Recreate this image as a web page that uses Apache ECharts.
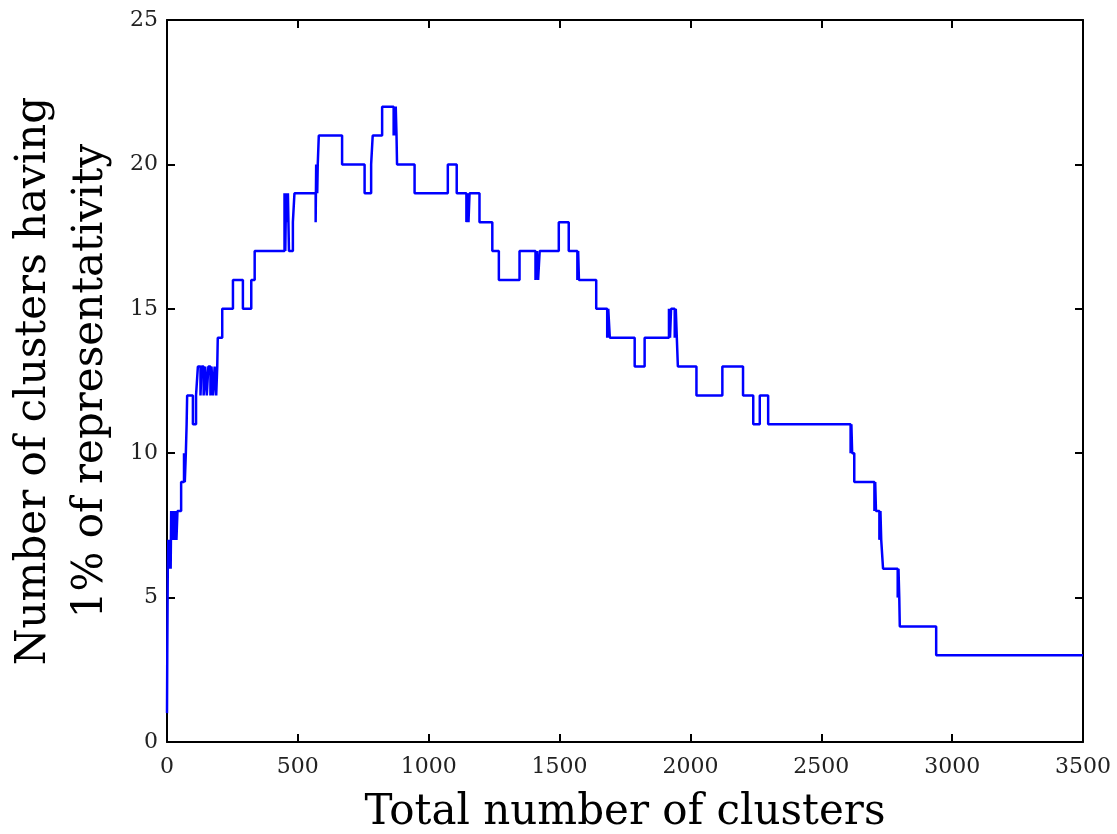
<!DOCTYPE html>
<html>
<head>
<meta charset="utf-8">
<script src="https://cdn.jsdelivr.net/npm/echarts@6/dist/echarts.min.js"></script>
<style>
html,body{margin:0;padding:0;background:#fff;}
#chart{width:1117px;height:834px;}
</style>
</head>
<body>
<div id="chart"></div>
<script>
// Step change points: x = total number of clusters, y = new value from that x on
const stepX = [0,1,3,5,8,11,14,16,20,24,28,32,36,40,54,65,68,72,75,77,99,111,118,128,132,140,146,152,158,166,170,176,182,188,192,194,211,252,290,322,335,449,452,455,458,462,466,481,487,568,570,574,576,580,669,755,780,786,822,866,868,872,874,877,879,946,1073,1107,1144,1148,1152,1156,1194,1243,1268,1347,1408,1413,1418,1424,1497,1535,1568,1571,1574,1640,1682,1686,1692,1787,1825,1918,1922,1926,1940,1944,1948,1952,2023,2122,2201,2240,2265,2297,2612,2615,2618,2626,2703,2706,2709,2722,2726,2729,2736,2792,2795,2798,2800,2939,3500];
const stepY = [1,3,6,7,6,7,6,8,7,8,7,8,7,8,9,10,9,10,11,12,11,12,13,12,13,12,13,12,13,12,13,12,13,12,13,14,15,16,15,16,17,19,17,19,18,19,17,18,19,18,20,19,20,21,20,19,20,21,22,21,22,21,22,21,20,19,20,19,18,19,18,19,18,17,16,17,16,17,16,17,18,17,16,17,16,15,14,15,14,13,14,15,14,15,14,15,14,13,12,13,12,11,12,11,10,11,10,9,8,9,8,7,8,7,6,5,6,5,4,3,3];
const xTicks = [0,500,1000,1500,2000,2500,3000,3500];
const yTicks = [0,5,10,15,20,25];
const xTitle = 'Total number of clusters';
const yTitle = 'Number of clusters having\n1% of representativity';

const data = stepX.map((x, i) => [x, stepY[i]]);
const FONT = 'DejaVu Serif';

const chart = echarts.init(document.getElementById('chart'), null, {renderer: 'canvas'});
const axisLine = {show: true, onZero: false, lineStyle: {color: '#000', width: 2}};
const tick = (len) => ({show: true, inside: true, length: len, lineStyle: {color: '#000', width: 2}});
const plain = (v) => String(v);
chart.setOption({
  animation: false,
  backgroundColor: '#fff',
  grid: {left: 167, right: 34, top: 20, bottom: 92, containLabel: false, outerBoundsMode: 'none'},
  xAxis: [{
    type: 'value', min: xTicks[0], max: xTicks[xTicks.length - 1], interval: 500, position: 'bottom',
    axisLine: axisLine, axisTick: tick(8), splitLine: {show: false},
    axisLabel: {margin: 14, color: '#222', fontFamily: FONT, fontSize: 22, formatter: plain},
    name: xTitle, nameLocation: 'middle', nameGap: 50,
    nameTextStyle: {fontFamily: FONT, fontSize: 42, color: '#000'}
  }, {
    type: 'value', min: xTicks[0], max: xTicks[xTicks.length - 1], interval: 500, position: 'top',
    axisLine: axisLine, axisTick: tick(8), splitLine: {show: false}, axisLabel: {show: false}
  }],
  yAxis: [{
    type: 'value', min: yTicks[0], max: yTicks[yTicks.length - 1], interval: 5, position: 'left',
    axisLine: axisLine, axisTick: tick(8), splitLine: {show: false},
    axisLabel: {margin: 9, color: '#222', fontFamily: FONT, fontSize: 22, formatter: plain},
    name: yTitle, nameLocation: 'middle', nameRotate: 90, nameGap: 46,
    nameTextStyle: {fontFamily: FONT, fontSize: 42, color: '#000', lineHeight: 57, align: 'center'}
  }, {
    type: 'value', min: yTicks[0], max: yTicks[yTicks.length - 1], interval: 5, position: 'right',
    axisLine: axisLine, axisTick: tick(8), splitLine: {show: false}, axisLabel: {show: false}
  }],
  series: [{
    type: 'line', step: 'end', data: data, showSymbol: false, symbol: 'none',
    xAxisIndex: 0, yAxisIndex: 0,
    lineStyle: {color: '#0000ff', width: 2.5}, itemStyle: {color: '#0000ff'}, z: 3
  }]
});
</script>
</body>
</html>
